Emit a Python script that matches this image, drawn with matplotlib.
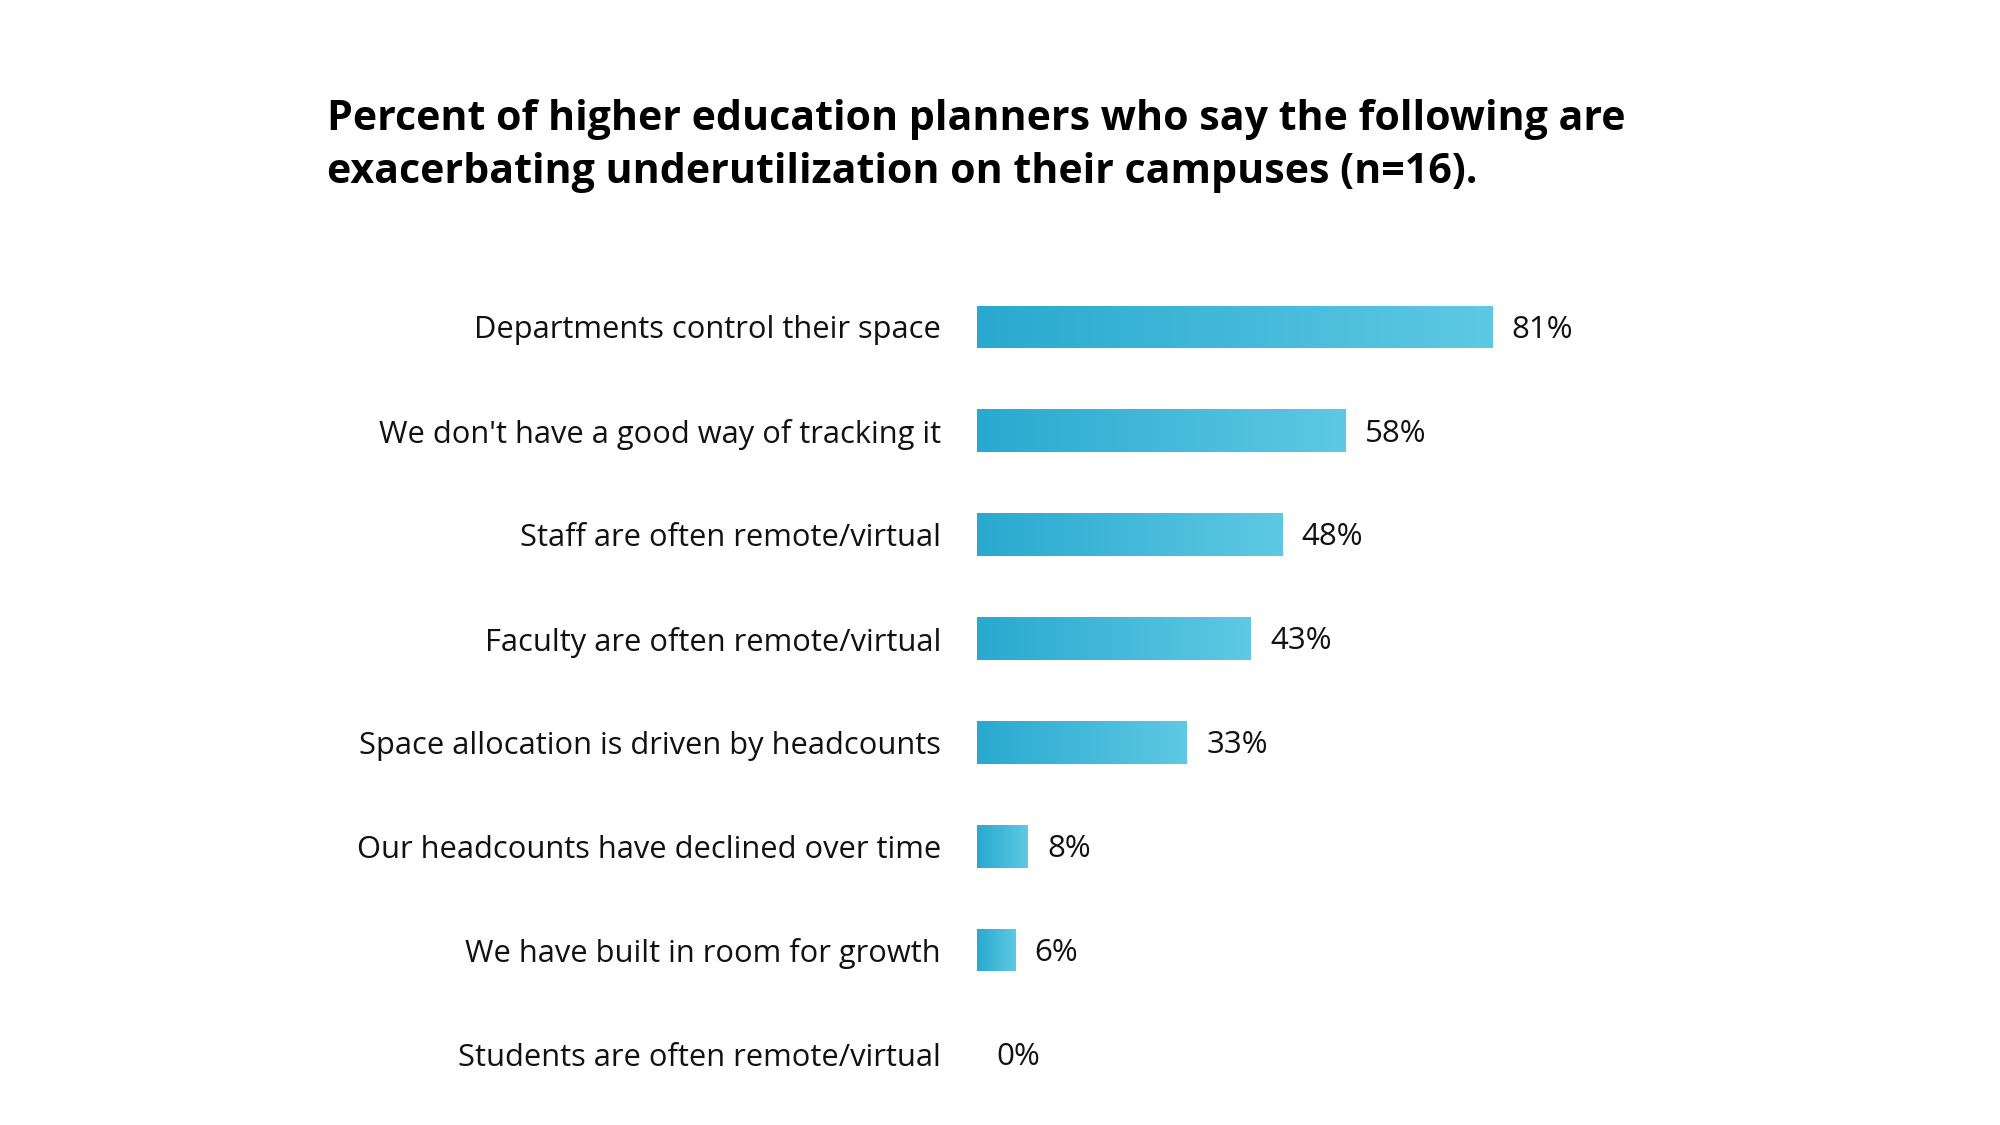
import matplotlib
matplotlib.use("Agg")
import matplotlib.pyplot as plt
import numpy as np
from matplotlib.colors import LinearSegmentedColormap

categories = [
    "Departments control their space",
    "We don't have a good way of tracking it",
    "Staff are often remote/virtual",
    "Faculty are often remote/virtual",
    "Space allocation is driven by headcounts",
    "Our headcounts have declined over time",
    "We have built in room for growth",
    "Students are often remote/virtual",
]
values = [81, 58, 48, 43, 33, 8, 6, 0]
value_labels = ["81%", "58%", "48%", "43%", "33%", "8%", "6%", "0%"]
title = ("Percent of higher education planners who say the following are\n"
         "exacerbating underutilization on their campuses (n=16).")

plt.rcParams['font.family'] = ['Open Sans', 'DejaVu Sans']

fig = plt.figure(figsize=(20, 11.25), dpi=100)
ax = fig.add_axes([0.4885, 0.0169, 0.318, 0.7387])

cmap = LinearSegmentedColormap.from_list("g", ["#29a9cf", "#5ec9e4"])
grad = np.linspace(0, 1, 256).reshape(1, -1)

y = np.arange(len(categories))
bh = 0.41
bars = ax.barh(y, values, height=bh, color="none", edgecolor="none")
for b, v in zip(bars, values):
    if v <= 0:
        continue
    x0, y0 = b.get_x(), b.get_y()
    im = ax.imshow(grad, cmap=cmap, aspect="auto",
                   extent=[x0, x0 + b.get_width(), y0 + b.get_height(), y0],
                   interpolation="bilinear", zorder=2)
    im.set_clip_path(b)

ax.set_xlim(0, 100)
ax.set_ylim(len(categories) - 0.5, -0.5)
ax.set_yticks(y)
ax.set_yticklabels(categories, fontsize=22.2, color="#111111")
ax.tick_params(axis="y", length=0, pad=26)
ax.set_xticks([])
for s in ax.spines.values():
    s.set_visible(False)

for yi, v, lab in zip(y, values, value_labels):
    ax.annotate(lab, (v, yi), xytext=(14, -2), textcoords="offset points",
                va="center", ha="left", fontsize=22.5, color="#111111")

fig.text(0.1635, 0.912, title, fontsize=29.6, fontweight="bold",
         ha="left", va="top", linespacing=1.38, color="#000000")

fig.savefig("out.png", dpi=100, facecolor="white")
